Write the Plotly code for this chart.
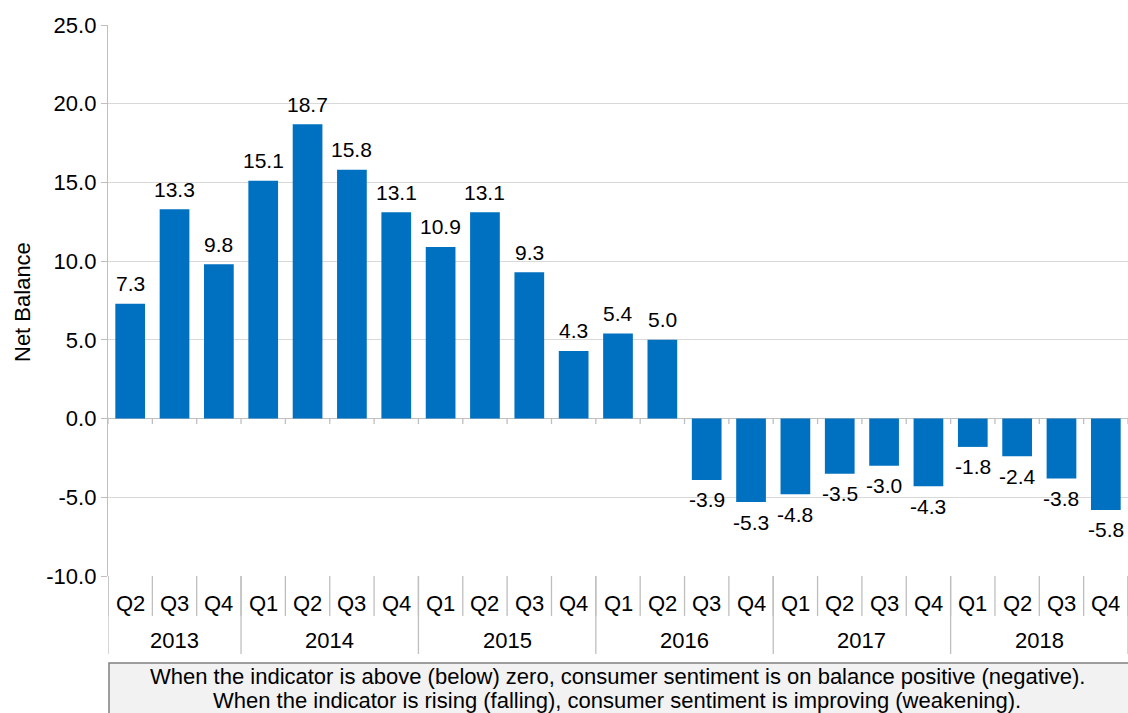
import plotly.graph_objects as go

# data
quarters = ["Q2", "Q3", "Q4",
            "Q1", "Q2", "Q3", "Q4",
            "Q1", "Q2", "Q3", "Q4",
            "Q1", "Q2", "Q3", "Q4",
            "Q1", "Q2", "Q3", "Q4",
            "Q1", "Q2", "Q3", "Q4"]
years = ["2013", "2014", "2015", "2016", "2017", "2018"]
quarters_per_year = [3, 4, 4, 4, 4, 4]
net_balance = [7.3, 13.3, 9.8,
               15.1, 18.7, 15.8, 13.1,
               10.9, 13.1, 9.3, 4.3,
               5.4, 5.0, -3.9, -5.3,
               -4.8, -3.5, -3.0, -4.3,
               -1.8, -2.4, -3.8, -5.8]
y_ticks = [-10, -5, 0, 5, 10, 15, 20, 25]
note_lines = ["When the indicator is above (below) zero, consumer sentiment is on balance positive (negative).",
              "When the indicator is rising (falling), consumer sentiment is improving (weakening)."]

FONT = "Liberation Sans, Arial, sans-serif"
BLUE = "#0070C0"
GRID = "#d9d9d9"
LINE = "#bfbfbf"
FS = 22

n = len(quarters)
xs = [i + 0.5 for i in range(n)]

fig = go.Figure()
fig.add_trace(go.Bar(
    x=xs, y=net_balance, width=0.67,
    marker=dict(color=BLUE, line=dict(width=0)),
    hoverinfo="skip",
))

shapes = []
annotations = []

# data labels
for x, v in zip(xs, net_balance):
    annotations.append(dict(x=x, y=v, xref="x", yref="y", text=f"{v:.1f}",
                            showarrow=False, xanchor="center", yanchor="middle",
                            yshift=20 if v >= 0 else -20,
                            font=dict(family=FONT, size=FS - 1, color="#000000")))

# plot area: y from 25 px to 576 px -> 551 px high
def py(pix):
    return (576 - pix) / 551

# quarter separators in the label band, and small ticks below zero
for i in range(n + 1):
    shapes.append(dict(type="line", xref="x", yref="paper", x0=i, x1=i,
                       y0=0, y1=py(616), line=dict(color=LINE, width=1.3)))
    shapes.append(dict(type="line", xref="x", yref="y", x0=i, x1=i,
                       y0=0, y1=-0.35, line=dict(color=LINE, width=1.3)))
for i, q in enumerate(quarters):
    annotations.append(dict(x=i + 0.5, y=py(603), xref="x", yref="paper",
                            text=q, showarrow=False, xanchor="center", yanchor="middle",
                            font=dict(family=FONT, size=FS, color="#000000")))

# year separators and labels
start = 0
for yr, cnt in zip(years, quarters_per_year):
    shapes.append(dict(type="line", xref="x", yref="paper", x0=start, x1=start,
                       y0=0, y1=py(654), line=dict(color=LINE, width=1.3)))
    annotations.append(dict(x=start + cnt / 2, y=py(640), xref="x", yref="paper",
                            text=yr, showarrow=False, xanchor="center", yanchor="middle",
                            font=dict(family=FONT, size=FS, color="#000000")))
    start += cnt
shapes.append(dict(type="line", xref="x", yref="paper", x0=n, x1=n,
                   y0=0, y1=py(654), line=dict(color=LINE, width=1.3)))

# note box
shapes.append(dict(type="rect", xref="paper", yref="paper",
                   x0=(109 - 108) / 1020, x1=1.02, y0=py(663), y1=py(730),
                   fillcolor="#f2f2f2", line=dict(color="#808080", width=1.5),
                   layer="below"))
for line_text, ypix in zip(note_lines, [676, 700]):
    annotations.append(dict(x=(617 - 108) / 1020, y=py(ypix), xref="paper", yref="paper",
                            text=line_text, showarrow=False,
                            xanchor="center", yanchor="middle",
                            font=dict(family=FONT, size=FS, color="#000000")))

# y-axis title
annotations.append(dict(x=(22 - 108) / 1020, y=py(302), xref="paper", yref="paper",
                        text="Net Balance", textangle=-90, showarrow=False,
                        xanchor="center", yanchor="middle",
                        font=dict(family=FONT, size=FS, color="#000000")))

fig.update_layout(
    width=1128, height=713,
    margin=dict(l=108, r=0, t=25, b=137),
    paper_bgcolor="white", plot_bgcolor="white",
    showlegend=False,
    shapes=shapes, annotations=annotations,
    xaxis=dict(range=[0, n], showticklabels=False, showgrid=False,
               zeroline=False, showline=False, fixedrange=True),
    yaxis=dict(range=[-10, 25], tickvals=y_ticks,
               ticktext=[f"{v:.1f}" for v in y_ticks],
               showgrid=True, gridcolor=GRID, gridwidth=1.3,
               zeroline=True, zerolinecolor=LINE, zerolinewidth=1.3,
               showline=True, linecolor=LINE, linewidth=1.3,
               ticks="outside", ticklen=6, tickcolor=LINE,
               tickfont=dict(family=FONT, size=FS, color="#000000")),
)

fig.write_html("out.html", config={"displayModeBar": False},
               post_script="document.body.style.margin='0px';")
